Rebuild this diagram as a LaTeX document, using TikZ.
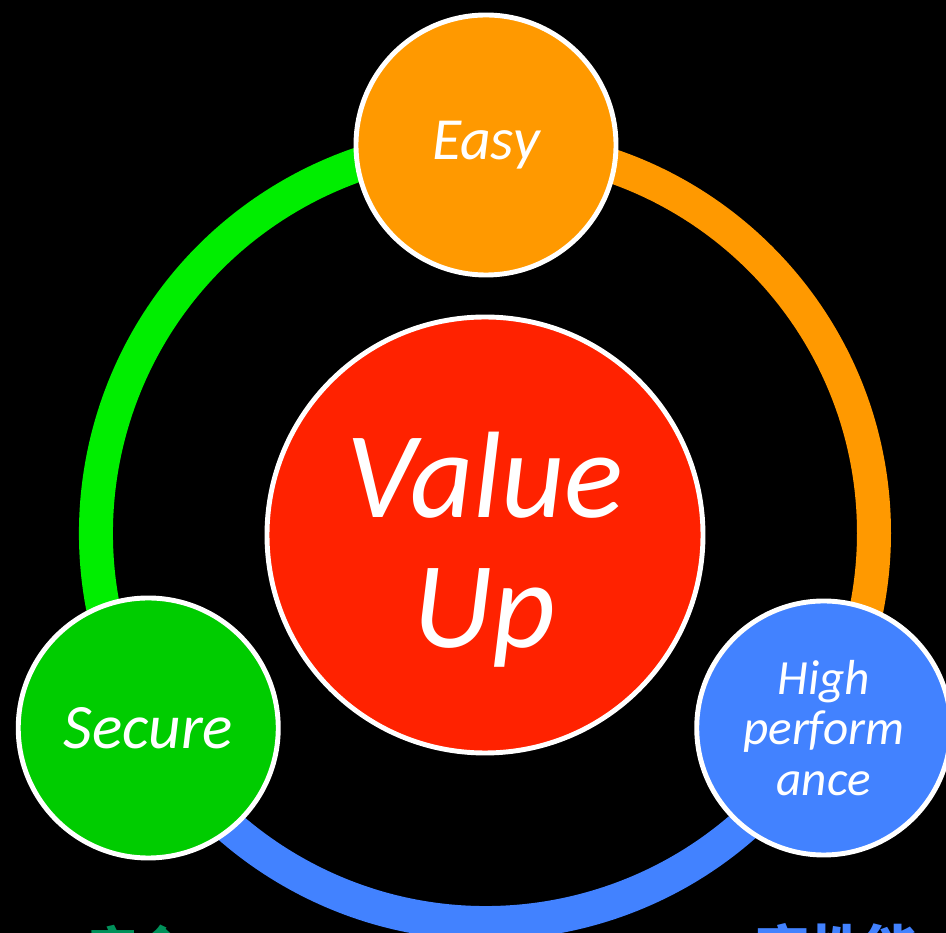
\documentclass[tikz,border=0pt]{standalone}
\usepackage{fontspec}
\setmainfont{Carlito}
\newfontfamily\cjk{Noto Sans CJK SC}
\usetikzlibrary{backgrounds,calc}
\definecolor{easyorange}{HTML}{FF9900}
\definecolor{ringgreen}{HTML}{00EE00}
\definecolor{securegreen}{HTML}{00CC00}
\definecolor{perfblue}{HTML}{4282FF}
\definecolor{valuered}{HTML}{FF2200}
\definecolor{labelgreen}{HTML}{00915A}
\begin{document}
\begin{tikzpicture}[
    ball/.style={circle, draw=white, line width=1.4pt, text=white, font=\itshape, align=center, inner sep=0pt},
    ring/.style={line width=0.34cm},
  ]
  \useasboundingbox (0,0) rectangle (9.46,-9.33);
  \coordinate (O) at (4.86,-5.33);
  \node[ball, fill=valuered, minimum size=4.36cm, font=\itshape\fontsize{35}{37}\selectfont] (value) at (4.85,-5.35)
    {\raisebox{-0.43cm}[0pt][0pt]{\begin{tabular}{@{}c@{}}Value\\Up\end{tabular}}};
  \node[ball, fill=easyorange, minimum size=2.6cm, font=\itshape\fontsize{17}{18}\selectfont] (easy) at ($(O)+(90:3.88)$) {Easy};
  \node[ball, fill=securegreen, minimum size=2.6cm, font=\itshape\fontsize{18}{20}\selectfont] (secure) at ($(O)+(210:3.9)$) {Secure};
  \node[ball, fill=perfblue, minimum size=2.54cm, font=\itshape\fontsize{14}{14.3}\selectfont] (perf) at ($(O)+(330:3.9)$) {High\\perform\\ance};
  \begin{scope}[on background layer]
    \fill[black] (0,0) rectangle (9.46,-9.33);
    \draw[ring, ringgreen] (secure.center) arc[start angle=210, end angle=90, radius=3.9];
    \draw[ring, easyorange] (easy.center) arc[start angle=90, end angle=-30, radius=3.88];
    \draw[ring, perfblue] (perf.center) arc[start angle=-30, end angle=-150, radius=3.9];
  \end{scope}
  \node[anchor=base west, text=labelgreen, font=\cjk\bfseries\fontsize{14}{16}\selectfont, inner sep=0pt] (anquan) at (0.88,-9.68) {安全};
  \node[anchor=base west, text=perfblue, font=\cjk\bfseries\fontsize{15.5}{17}\selectfont, inner sep=0pt] (gaoxing) at (7.55,-9.71) {高性能};
\end{tikzpicture}
\end{document}
